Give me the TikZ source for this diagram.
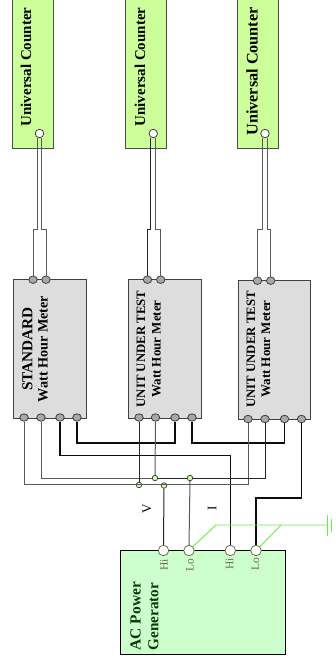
\documentclass[tikz,border=0pt]{standalone}
\usepackage{fontspec}
\usetikzlibrary{shapes.geometric}
\setmainfont{Liberation Serif}
\definecolor{counterfill}{HTML}{CCFF99}
\definecolor{meterfill}{HTML}{DDDDDD}
\definecolor{genfill}{HTML}{CCFFCC}
\definecolor{portgray}{HTML}{A8A8A8}
\definecolor{portedge}{HTML}{6F6F50}
\definecolor{junctionfill}{HTML}{CCFFAA}
\definecolor{groundgreen}{HTML}{66EE44}
\definecolor{gentext}{HTML}{0A3A0A}
\definecolor{labelgray}{HTML}{6F6F55}
\begin{document}
\begin{tikzpicture}[x=1pt,y=-1pt,
  counterbox/.style={draw=black!70,line width=1pt,fill=counterfill,rectangle,inner sep=0pt,minimum width=41pt,minimum height=149pt},
  meterbox/.style={draw=black!75,line width=1pt,fill=meterfill,rectangle,inner sep=0pt,minimum width=72.5pt,minimum height=138.5pt},
  genbox/.style={draw=black,line width=1pt,fill=genfill,rectangle,inner sep=0pt,minimum width=165.5pt,minimum height=104pt},
  whiteport/.style={circle,draw=black!75,line width=0.8pt,fill=white,inner sep=0pt,minimum size=8.5pt},
  genport/.style={circle,draw=portedge,line width=0.8pt,fill=white,inner sep=0pt,minimum size=10.5pt},
  meterport/.style={ellipse,draw=black!75,line width=0.8pt,fill=portgray,inner sep=0pt,minimum width=8.5pt,minimum height=7.5pt},
  junction/.style={circle,draw=black!80,line width=0.7pt,fill=junctionfill,inner sep=0pt,minimum size=5.5pt},
  thin wire/.style={draw=black!85,line width=1pt},
  gray wire/.style={draw=black!65,line width=1pt},
  heavy wire/.style={draw=black!95,line width=1.3pt},
  ground wire/.style={draw=groundgreen,line width=0.9pt},
  title/.style={rotate=90,font=\bfseries,text=black,inner sep=0pt},
  gentitle/.style={rotate=90,font=\bfseries\fontsize{15.5}{17}\selectfont,text=gentext,inner sep=0pt,anchor=west},
  portlabel/.style={rotate=90,font=\fontsize{11.5}{13}\selectfont,text=labelgray,inner sep=0pt},
  wirelabel/.style={rotate=90,font=\fontsize{13}{15}\selectfont,inner sep=0pt}]
\useasboundingbox (0,0) rectangle (335,664);
% counters
\node[counterbox] (c1) at (32.5,73.5) {};
\node[counterbox] (c2) at (146.3,73.5) {};
\node[counterbox] (c3) at (258,73.5) {};
\node[title,font=\bfseries\fontsize{15}{17}\selectfont] (c1t) at (26,67) {Universal Counter};
\node[title,font=\bfseries\fontsize{15}{17}\selectfont] (c2t) at (140,67) {Universal Counter};
\node[title,font=\bfseries\fontsize{16.2}{18}\selectfont] (c3t) at (252,71.5) {Universal Counter};
\node[whiteport] (c1p) at (39.5,133.5) {};
\node[whiteport] (c2p) at (153.3,133.5) {};
\node[whiteport] (c3p) at (265,133.5) {};
% meters
\node[meterbox] (m1) at (50,349) {};
\node[meterbox] (m2) at (165,349) {};
\node[meterbox] (m3) at (274.5,350) {};
\node[title,font=\bfseries\fontsize{15.2}{17}\selectfont] (m1a) at (27.5,349) {STANDARD};
\node[title,font=\bfseries\fontsize{14.2}{16}\selectfont] (m1b) at (43,349) {Watt Hour Meter};
\node[title,font=\bfseries\fontsize{12.8}{14}\selectfont] (m2a) at (141,349) {UNIT UNDER TEST};
\node[title,font=\bfseries\fontsize{13}{15}\selectfont] (m2b) at (156.5,349) {Watt Hour Meter};
\node[title,font=\bfseries\fontsize{12.8}{14}\selectfont] (m3a) at (251,349.5) {UNIT UNDER TEST};
\node[title,font=\bfseries\fontsize{13}{15}\selectfont] (m3b) at (266,349) {Watt Hour Meter};
% meter ports
\foreach \n/\x/\y in {m1u/33/279.7,m1v/46/279.7,m2u/147.5/279.7,m2v/160.7/279.7,m3u/257.5/280.7,m3v/270.7/280.7,
  m1a1/24/417.5,m1a2/41/417.5,m1a3/60/417.5,m1a4/77/417.5,
  m2a1/139/417.5,m2a2/155.5/417.5,m2a3/175/417.5,m2a4/192/417.5,
  m3a1/248/419,m3a2/265/419,m3a3/284.5/419,m3a4/301.5/419}
  \node[meterport] (\n) at (\x,\y) {};
% generator
\node[genbox] (g) at (203,602.5) {};
\node[genport] (gvh) at (163.5,550.5) {};
\node[genport] (gvl) at (189,550.5) {};
\node[genport] (gih) at (230.3,550.5) {};
\node[genport] (gil) at (256,550.5) {};
\node[portlabel] (l1) at (164,565) {Hi};
\node[portlabel] (l2) at (190,565) {Lo};
\node[portlabel] (l3) at (229.5,564) {Hi};
\node[portlabel] (l4) at (255.5,564) {Lo};
\node[gentitle] (g1) at (135.5,650.5) {AC Power};
\node[gentitle,font=\bfseries\fontsize{15.2}{17}\selectfont] (g2) at (153.5,650.5) {Generator};
\node[wirelabel] (vl) at (147,508.5) {V};
\node[wirelabel] (il) at (212,508.5) {I};
% level coordinates
\coordinate (y229) at (0,229);
\coordinate (y443) at (0,443);
\coordinate (y456) at (0,455.5);
\coordinate (y478) at (0,478);
\coordinate (y485) at (0,484.5);
\coordinate (y498) at (0,498);
% junctions
\node[junction] (j1) at (139,485) {};
\node[junction] (j2) at (155,478) {};
\node[junction] (j3) at (164,485.5) {};
\node[junction] (j4) at (190,478) {};
% counter wires
\draw[gray wire] (m1u.north) -- (m1u.north |- y229) -| (c1p.-120);
\draw[gray wire] (m1v.north) -- (m1v.north |- y229) -| (c1p.-60);
\draw[thin wire] (m2u.north) -- (m2u.north |- y229) -| (c2p.-120);
\draw[gray wire] (m2v.north) -- (m2v.north |- y229) -| (c2p.-60);
\draw[gray wire] (m3u.north) -- (m3u.north |- y229) -| (c3p.-120);
\draw[gray wire] (m3v.north) -- (m3v.north |- y229) -| (c3p.-60);
% current loop
\draw[heavy wire] (m1a4.south) -- (m1a4.south |- y443) -| (m2a3.south);
\draw[heavy wire] (m2a4.south) -- (m2a4.south |- y443) -| (m3a3.south);
\draw[heavy wire] (m1a3.south) -- (m1a3.south |- y456) -| (gih.north);
\draw[heavy wire] (m3a4.south) -- (m3a4.south |- y498) -| (gil.north);
% voltage wires
\draw[gray wire] (m1a1.south) -- (m1a1.south |- y485) -| (m3a1.south);
\draw[gray wire] (m1a2.south) -- (m1a2.south |- y478) -- (j2.west);
\draw[thin wire] (j2.east) -- (j4.west);
\draw[thin wire] (j4.east) -- (j4.east -| m3a2.south) -- (m3a2.south);
\draw[thin wire] (m2a1.south) -- (j1.north);
\draw[gray wire] (m2a2.south) -- (j2.north);
\draw[thin wire] (j3.south) -- (gvh.north);
\draw[gray wire] (j4.south) -- (gvl.north);
% ground
\coordinate (gnd1) at (216,525);
\coordinate (gnd2) at (281,525);
\coordinate (gnd) at (327,525);
\draw[ground wire] (gvl.45) -- (gnd1) -- (gnd);
\draw[ground wire] (gil.45) -- (gnd2);
\draw[ground wire] ([yshift=-10.5pt]gnd) -- ([yshift=10.5pt]gnd);
\draw[ground wire] (331,519) -- (331,532);
\end{tikzpicture}
\end{document}
